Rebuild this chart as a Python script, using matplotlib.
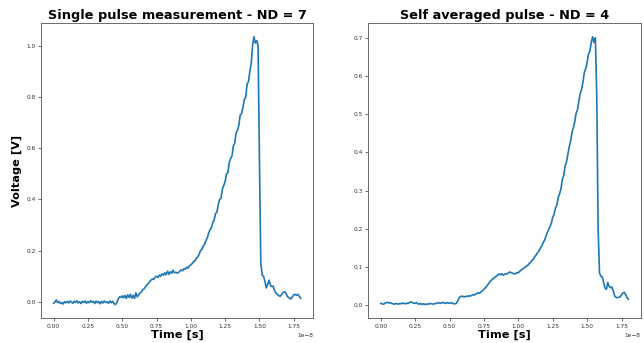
import numpy as np
import matplotlib
matplotlib.use("Agg")
import matplotlib.pyplot as plt

# sample times in units of 1e-8 s (10 ps step)
time_ns10 = np.round(np.arange(0, 181) * 0.01, 2)

# single pulse, ND = 7 (volts)
single_pulse = [
    -0.005, 0.000, 0.008, -0.003, 0.002, -0.006, -0.002, -0.008, 0.001, -0.003,
    0.002, -0.004, 0.004, 0.000, -0.005, 0.003, -0.002, 0.005, -0.004, 0.001,
    -0.006, 0.003, -0.002, 0.004, -0.005, 0.002, -0.003, 0.005, -0.001, 0.003,
    -0.006, 0.004, -0.003, 0.002, -0.007, 0.003, -0.004, 0.004, -0.002, 0.001,
    -0.005, 0.004, -0.003, 0.003, -0.006, -0.010, -0.004, 0.010, 0.020, 0.018,
    0.024, 0.016, 0.026, 0.014, 0.028, 0.018, 0.030, 0.015, 0.026, 0.014,
    0.036, 0.020, 0.028, 0.035, 0.040, 0.048, 0.052, 0.060, 0.066, 0.072,
    0.080, 0.085, 0.090, 0.088, 0.097, 0.100, 0.096, 0.105, 0.100, 0.110,
    0.104, 0.114, 0.106, 0.120, 0.108, 0.118, 0.112, 0.124, 0.114, 0.116,
    0.113, 0.115, 0.120, 0.125, 0.122, 0.130, 0.128, 0.136, 0.132, 0.142,
    0.145, 0.150, 0.158, 0.160, 0.170, 0.175, 0.185, 0.200, 0.205, 0.218,
    0.225, 0.240, 0.250, 0.270, 0.282, 0.290, 0.310, 0.320, 0.345, 0.350,
    0.380, 0.400, 0.405, 0.440, 0.455, 0.470, 0.500, 0.505, 0.545, 0.560,
    0.570, 0.610, 0.620, 0.660, 0.670, 0.690, 0.730, 0.735, 0.760, 0.790,
    0.800, 0.850, 0.860, 0.900, 0.930, 1.000, 1.035, 1.010, 1.020, 1.000,
    0.550, 0.150, 0.105, 0.100, 0.080, 0.055, 0.070, 0.085, 0.065, 0.060,
    0.062, 0.045, 0.035, 0.030, 0.025, 0.022, 0.028, 0.035, 0.040, 0.038,
    0.025, 0.018, 0.014, 0.012, 0.020, 0.028, 0.030, 0.026, 0.030, 0.022,
    0.015,
]

# self averaged pulse, ND = 4 (volts)
averaged_pulse = [
    0.005, 0.004, 0.003, 0.005, 0.007, 0.008, 0.006, 0.007, 0.005, 0.004,
    0.003, 0.005, 0.004, 0.003, 0.005, 0.004, 0.006, 0.005, 0.004, 0.006,
    0.005, 0.008, 0.009, 0.007, 0.006, 0.005, 0.007, 0.004, 0.003, 0.005,
    0.002, 0.004, 0.003, 0.002, 0.004, 0.003, 0.005, 0.004, 0.003, 0.004,
    0.005, 0.006, 0.007, 0.005, 0.006, 0.008, 0.006, 0.005, 0.007, 0.006,
    0.005, 0.007, 0.006, 0.004, 0.004, 0.005, 0.012, 0.020, 0.023, 0.024,
    0.023, 0.022, 0.024, 0.023, 0.025, 0.024, 0.026, 0.028, 0.027, 0.030,
    0.031, 0.033, 0.032, 0.036, 0.038, 0.042, 0.046, 0.050, 0.055, 0.060,
    0.064, 0.068, 0.070, 0.074, 0.076, 0.079, 0.082, 0.080, 0.083, 0.079,
    0.081, 0.083, 0.082, 0.086, 0.087, 0.085, 0.084, 0.082, 0.083, 0.086,
    0.085, 0.089, 0.092, 0.095, 0.097, 0.100, 0.103, 0.105, 0.110, 0.113,
    0.118, 0.121, 0.128, 0.132, 0.138, 0.142, 0.150, 0.155, 0.164, 0.170,
    0.180, 0.190, 0.198, 0.206, 0.215, 0.230, 0.238, 0.255, 0.262, 0.282,
    0.292, 0.305, 0.330, 0.340, 0.365, 0.375, 0.395, 0.415, 0.430, 0.452,
    0.465, 0.480, 0.503, 0.512, 0.535, 0.555, 0.565, 0.585, 0.610, 0.620,
    0.635, 0.658, 0.665, 0.688, 0.703, 0.688, 0.700, 0.550, 0.200, 0.085,
    0.076, 0.075, 0.060, 0.045, 0.042, 0.060, 0.050, 0.046, 0.048, 0.038,
    0.025, 0.021, 0.020, 0.021, 0.022, 0.028, 0.032, 0.034, 0.028, 0.020,
    0.016,
]

titles = ["Single pulse measurement - ND = 7", "Self averaged pulse - ND = 4"]

fig = plt.figure(figsize=(6.44, 3.43), dpi=100)
ax_left = fig.add_axes([0.064, 0.073, 0.422, 0.859])
ax_right = fig.add_axes([0.572, 0.073, 0.423, 0.859])

time_s = time_ns10 * 1e-8
for ax, volts, title in zip([ax_left, ax_right], [single_pulse, averaged_pulse], titles):
    ax.plot(time_s, volts, color="#1f77b4", linewidth=1.2)
    ax.set_title(title, fontsize=9.3, fontweight="bold", pad=3)
    ax.set_xlabel("Time [s]", fontsize=8.2, fontweight="bold", labelpad=1)
    ax.tick_params(labelsize=4.2, length=2, width=0.5, pad=2, colors="#333333")
    ax.xaxis.get_offset_text().set_fontsize(4.2)
    for sp in ax.spines.values():
        sp.set_linewidth(0.6)
        sp.set_color("#555555")

ax_left.set_ylabel("Voltage [V]", fontsize=8.2, fontweight="bold", labelpad=3)

plt.savefig("out.png", dpi=100)
